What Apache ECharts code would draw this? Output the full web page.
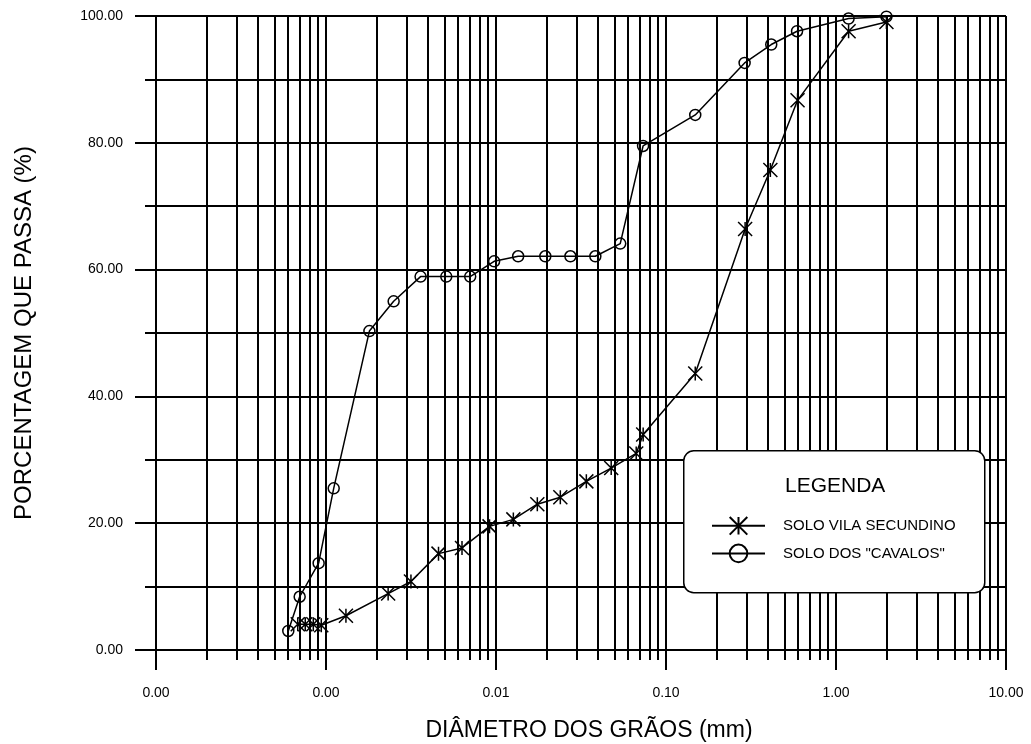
<!DOCTYPE html>
<html>
<head>
<meta charset="utf-8">
<style>
  html, body { margin: 0; padding: 0; background: #ffffff; }
  #chart { width: 1031px; height: 744px; }
</style>
<script src="https://cdn.jsdelivr.net/npm/echarts@6/dist/echarts.min.js"></script>
</head>
<body>
<div id="chart"></div>
<script>
// ---- data ----
const vilaDiameter = [0.000682, 0.000755, 0.000842, 0.000938, 0.00131, 0.00232, 0.00316, 0.00459, 0.00631, 0.00916, 0.01265, 0.0175, 0.0239, 0.034, 0.0476, 0.0668, 0.0734, 0.1486, 0.292, 0.411, 0.594, 1.186, 1.98];
const vilaPassing  = [4.05, 4.05, 4.05, 3.9, 5.4, 8.9, 10.8, 15.2, 16.1, 19.5, 20.6, 23.0, 24.1, 26.6, 28.7, 31.0, 34.0, 43.6, 66.4, 75.7, 86.7, 97.6, 99.05];

const cavalosDiameter = [0.0006, 0.0007, 0.000905, 0.00111, 0.0018, 0.0025, 0.0036, 0.0051, 0.00705, 0.00975, 0.0135, 0.0195, 0.0274, 0.0384, 0.0538, 0.0733, 0.1486, 0.29, 0.416, 0.59, 1.186, 1.98];
const cavalosPassing  = [3.0, 8.4, 13.7, 25.5, 50.3, 55.0, 58.9, 58.9, 58.9, 61.3, 62.1, 62.1, 62.1, 62.1, 64.1, 79.5, 84.4, 92.6, 95.5, 97.6, 99.6, 99.9];

const seriesNames = ['SOLO VILA SECUNDINO', 'SOLO DOS "CAVALOS"'];
const xMin = 0.0001, xMax = 10;
const yMin = 0, yMax = 100;
const decadeStarts = [0.0001, 0.001, 0.01, 0.1, 1];
const minorMultipliers = [2, 3, 4, 5, 6, 7, 8, 9];

const xTitle = 'DIÂMETRO DOS GRÃOS (mm)';
const yTitle = 'PORCENTAGEM QUE PASSA (%)';
const legendTitle = 'LEGENDA';

// ---- build ----
const minorGridData = [];
decadeStarts.forEach(d => minorMultipliers.forEach(m => minorGridData.push([d * m, yMin])));
const pair = (xs, ys) => xs.map((x, i) => [x, ys[i]]);

const FONT = '"Liberation Sans", Arial, sans-serif';
const starPath = 'path://M10,0 L10,20 M0,0 L20,20 M0,20 L20,0';

const chart = echarts.init(document.getElementById('chart'), null, { renderer: 'canvas' });
chart.setOption({
  backgroundColor: '#ffffff',
  animation: false,
  grid: { left: 156, right: 25, top: 16, bottom: 94, containLabel: false, outerBoundsMode: 'none' },
  xAxis: {
    type: 'log', logBase: 10, min: xMin, max: xMax,
    axisLine: { show: true, onZero: false, lineStyle: { color: '#000', width: 2 } },
    axisTick: { show: true, length: 20, lineStyle: { color: '#000', width: 2 } },
    splitLine: { show: true, lineStyle: { color: '#000', width: 2 } },
    axisLabel: { formatter: v => Number(v).toFixed(2), margin: 36, fontSize: 14, fontFamily: FONT, color: '#000' },
    name: xTitle, nameLocation: 'middle', nameGap: 69,
    nameTextStyle: { fontSize: 23, fontFamily: FONT, color: '#000', padding: [0, 0, 0, 16] }
  },
  yAxis: [
    {
      type: 'value', min: yMin, max: yMax, interval: 10,
      axisLine: { show: true, onZero: false, lineStyle: { color: '#000', width: 2 } },
      axisTick: { show: true, length: 11, lineStyle: { color: '#000', width: 2 } },
      splitLine: { show: true, lineStyle: { color: '#000', width: 2 } },
      axisLabel: { show: false }
    },
    {
      type: 'value', min: yMin, max: yMax, interval: 20, position: 'left',
      axisLine: { show: false },
      axisTick: { show: true, length: 21, lineStyle: { color: '#000', width: 2 } },
      splitLine: { show: false },
      axisLabel: { formatter: v => Number(v).toFixed(2), margin: 33, fontSize: 14, fontFamily: FONT, color: '#000' },
      name: yTitle, nameLocation: 'middle', nameGap: 120,
      nameTextStyle: { fontSize: 24, fontFamily: FONT, color: '#000' }
    }
  ],
  legend: {
    orient: 'vertical', left: 711, top: 516, padding: 0,
    itemWidth: 53, itemHeight: 22, itemGap: 8,
    data: seriesNames, z: 30, selectedMode: false,
    textStyle: { fontSize: 15, fontFamily: FONT, color: '#000', padding: [0, 0, 0, 13] }
  },
  graphic: [
    {
      type: 'rect', left: 683, top: 450, z: 25,
      shape: { width: 301, height: 142, r: 10 },
      style: { fill: '#fff', stroke: '#000', lineWidth: 1.5 }
    },
    {
      type: 'text', left: 785, top: 476, z: 26,
      style: { text: legendTitle, font: '21px ' + FONT, fill: '#000' }
    }
  ],
  series: [
    {
      type: 'custom', name: 'minorGrid', silent: true, clip: false, z: 1,
      xAxisIndex: 0, yAxisIndex: 0,
      data: minorGridData,
      encode: { x: 0, y: 1 },
      renderItem: (params, api) => {
        const x = api.value(0);
        const t = api.coord([x, yMax]);
        const b = api.coord([x, yMin]);
        const px = Math.round(t[0]);
        return { type: 'line', shape: { x1: px, y1: t[1], x2: px, y2: b[1] + 10 },
                 style: { stroke: '#000', lineWidth: 2 } };
      }
    },
    {
      type: 'line', name: seriesNames[0], xAxisIndex: 0, yAxisIndex: 0, z: 5,
      data: pair(vilaDiameter, vilaPassing),
      symbol: starPath, symbolSize: 14,
      lineStyle: { color: '#000', width: 1.5 },
      itemStyle: { color: '#000', borderColor: '#000', borderWidth: 1.5 }
    },
    {
      type: 'line', name: seriesNames[1], xAxisIndex: 0, yAxisIndex: 0, z: 5,
      data: pair(cavalosDiameter, cavalosPassing),
      symbol: 'circle', symbolSize: 11,
      lineStyle: { color: '#000', width: 1.5 },
      itemStyle: { color: 'rgba(0,0,0,0)', borderColor: '#000', borderWidth: 1.5 }
    }
  ]
});
</script>
</body>
</html>
